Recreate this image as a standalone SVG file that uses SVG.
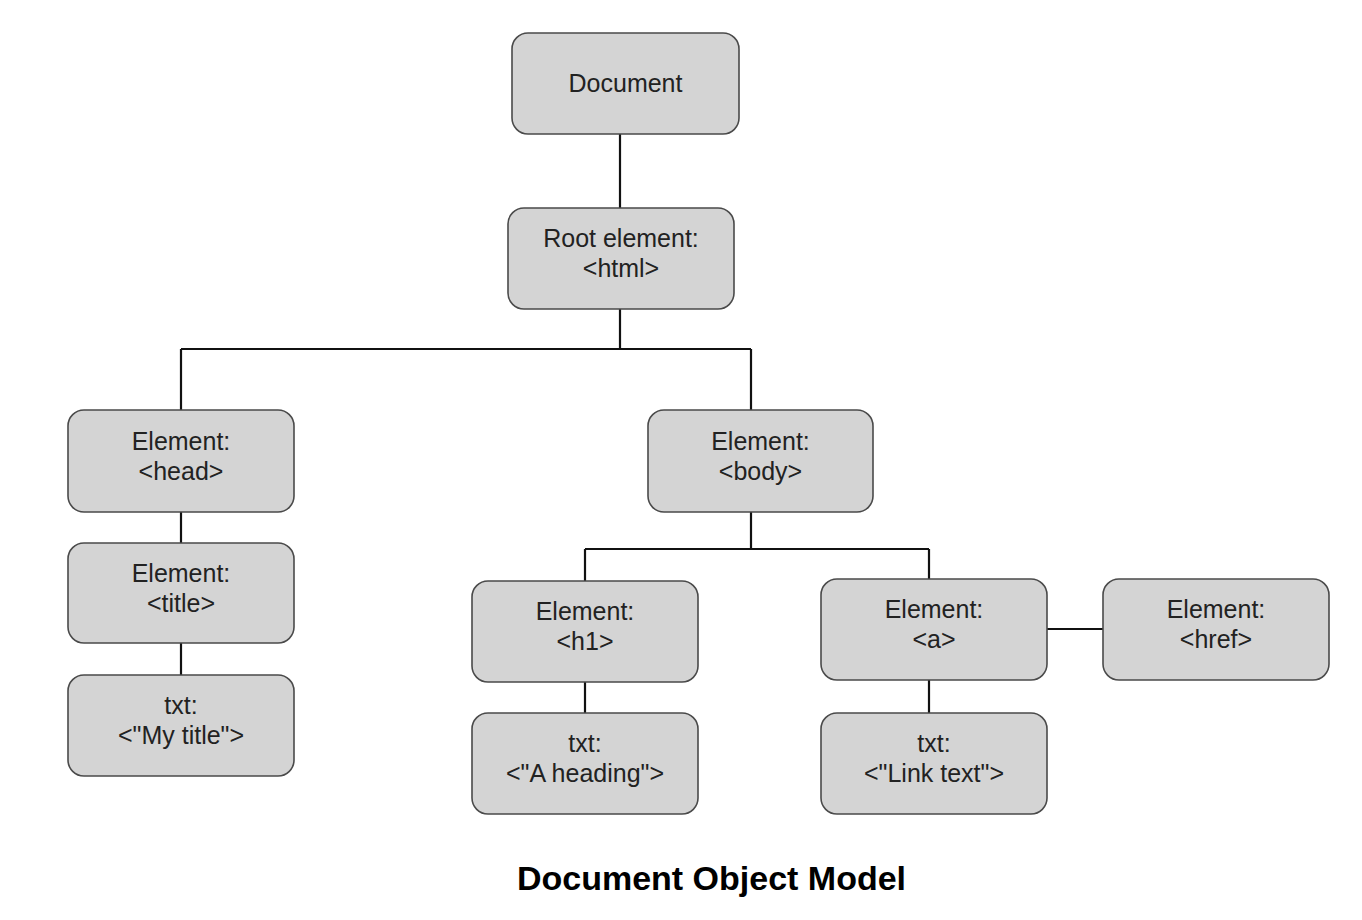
<svg xmlns="http://www.w3.org/2000/svg" width="1362" height="920" viewBox="0 0 1362 920">
<style>
.box{fill:#d4d4d4;stroke:#4a4a4a;stroke-width:1.6}
.t{font-family:"Liberation Sans",Arial,sans-serif;font-size:25px;fill:#222;text-anchor:middle}
.title{font-family:"Liberation Sans",Arial,sans-serif;font-size:34px;font-weight:bold;fill:#000;text-anchor:middle}
.c{fill:none;stroke:#111;stroke-width:2.2}
</style>
<rect width="1362" height="920" fill="#fff"/>
<g id="connectors">
<path class="c" d="M620 134V208"/>
<path class="c" d="M620 309V349M181 349H751M181 349V410M751 349V410"/>
<path class="c" d="M181 512V543M181 643V675"/>
<path class="c" d="M751 512V549M585 549H929M585 549V581M929 549V579"/>
<path class="c" d="M585 682V713M929 680V713M1047 629H1103"/>
</g>
<g id="document"><rect class="box" x="512" y="33" width="227" height="101" rx="16"/><text class="t" x="625.5" y="92">Document</text></g>
<g id="root"><rect class="box" x="508" y="208" width="226" height="101" rx="16"/><text class="t" x="621" y="247">Root element:</text><text class="t" x="621" y="277">&lt;html&gt;</text></g>
<g id="head"><rect class="box" x="68" y="410" width="226" height="102" rx="16"/><text class="t" x="181" y="450">Element:</text><text class="t" x="181" y="480">&lt;head&gt;</text></g>
<g id="body"><rect class="box" x="648" y="410" width="225" height="102" rx="16"/><text class="t" x="760.5" y="450">Element:</text><text class="t" x="760.5" y="480">&lt;body&gt;</text></g>
<g id="title-el"><rect class="box" x="68" y="543" width="226" height="100" rx="16"/><text class="t" x="181" y="582">Element:</text><text class="t" x="181" y="612">&lt;title&gt;</text></g>
<g id="txt-title"><rect class="box" x="68" y="675" width="226" height="101" rx="16"/><text class="t" x="181" y="714">txt:</text><text class="t" x="181" y="744">&lt;"My title"&gt;</text></g>
<g id="h1"><rect class="box" x="472" y="581" width="226" height="101" rx="16"/><text class="t" x="585" y="620">Element:</text><text class="t" x="585" y="650">&lt;h1&gt;</text></g>
<g id="a"><rect class="box" x="821" y="579" width="226" height="101" rx="16"/><text class="t" x="934" y="618">Element:</text><text class="t" x="934" y="648">&lt;a&gt;</text></g>
<g id="href"><rect class="box" x="1103" y="579" width="226" height="101" rx="16"/><text class="t" x="1216" y="618">Element:</text><text class="t" x="1216" y="648">&lt;href&gt;</text></g>
<g id="txt-heading"><rect class="box" x="472" y="713" width="226" height="101" rx="16"/><text class="t" x="585" y="752">txt:</text><text class="t" x="585" y="782">&lt;"A heading"&gt;</text></g>
<g id="txt-link"><rect class="box" x="821" y="713" width="226" height="101" rx="16"/><text class="t" x="934" y="752">txt:</text><text class="t" x="934" y="782">&lt;"Link text"&gt;</text></g>
<text class="title" x="711.5" y="890">Document Object Model</text>
</svg>
